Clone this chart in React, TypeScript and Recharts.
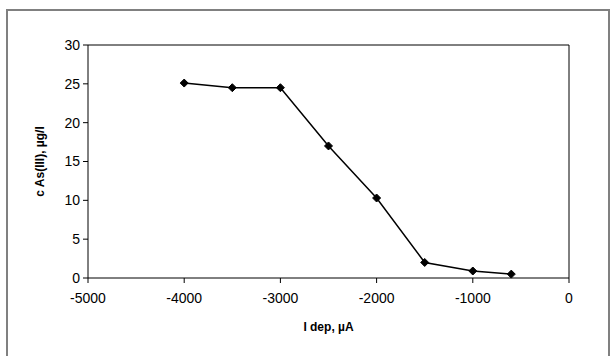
import { Line, LineChart, XAxis, YAxis, ReferenceLine, Label } from 'recharts';

const currents = [-4000, -3500, -3000, -2500, -2000, -1500, -1000, -600];
const concentrations = [25.1, 24.5, 24.5, 17.0, 10.3, 2.0, 0.9, 0.5];
const xTicks = [-5000, -4000, -3000, -2000, -1000, 0];
const yTicks = [0, 5, 10, 15, 20, 25, 30];

const data = currents.map((t, i) => ({ t, c: concentrations[i] }));

const font = '"Liberation Sans", Arial, sans-serif';

function Diamond(props: any) {
  const { cx, cy, index } = props;
  if (cx == null || cy == null) return null;
  const r = 4;
  return (
    <polygon
      key={index}
      points={`${cx},${cy - r} ${cx + r},${cy} ${cx},${cy + r} ${cx - r},${cy}`}
      fill="#000"
      stroke="#000"
    />
  );
}

export default function App() {
  return (
    <div style={{ position: 'fixed', left: 0, top: 0, width: 616, height: 356, background: '#fff' }}>
      <div
        style={{
          position: 'absolute',
          left: 6,
          top: 9,
          width: 600,
          height: 345,
          border: '2px solid #808080',
        }}
      />
      <div style={{ position: 'absolute', left: 0, top: 0 }}>
        <LineChart
          width={616}
          height={356}
          data={data}
          margin={{ top: 45, right: 47, bottom: 25, left: 30 }}
          style={{ fontFamily: font }}
        >
          <XAxis
            type="number"
            dataKey="t"
            domain={[-5000, 0]}
            ticks={xTicks}
            stroke="#000"
            tick={{ fill: '#000', fontSize: 14 }}
            tickSize={5}
            tickMargin={10}
            height={53}
          >
            <Label
              value="I dep, µA"
              position="insideBottom"
              offset={0}
              style={{ fontWeight: 'bold', fontSize: 12, fill: '#000' }}
            />
          </XAxis>
          <YAxis
            type="number"
            domain={[0, 30]}
            ticks={yTicks}
            stroke="#000"
            tick={{ fill: '#000', fontSize: 14 }}
            tickSize={5}
            tickMargin={3}
            width={58}
          >
            <Label
              value="c As(III), µg/l"
              angle={-90}
              position="insideLeft"
              offset={10}
              style={{ fontWeight: 'bold', fontSize: 12, fill: '#000', textAnchor: 'middle' }}
            />
          </YAxis>
          <ReferenceLine y={30} stroke="#000" />
          <ReferenceLine x={0} stroke="#000" />
          <Line
            type="linear"
            dataKey="c"
            stroke="#000"
            strokeWidth={1.5}
            dot={<Diamond />}
            activeDot={false}
            isAnimationActive={false}
          />
        </LineChart>
      </div>
    </div>
  );
}
